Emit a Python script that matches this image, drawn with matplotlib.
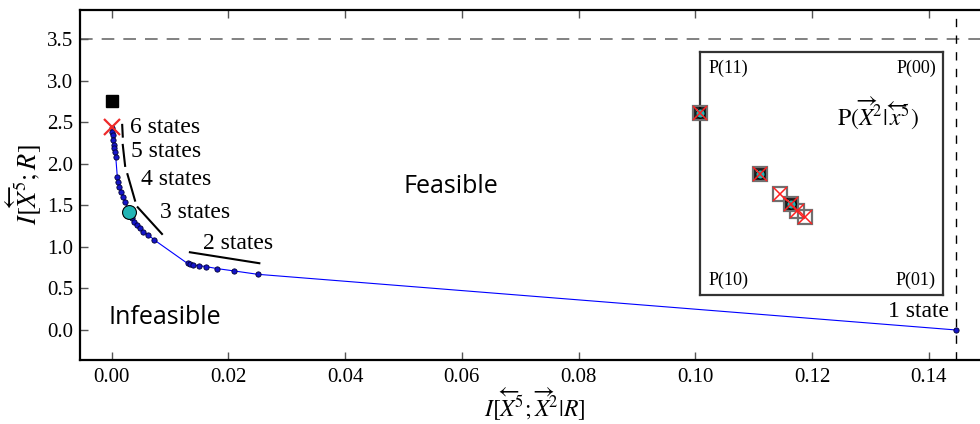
import matplotlib
matplotlib.use("Agg")
import matplotlib.pyplot as plt

plt.rcParams['font.family'] = ['Liberation Serif', 'DejaVu Serif']
plt.rcParams['mathtext.fontset'] = 'stix'

# ---- data ----
curve_x = [0.0, 0.00005, 0.00027, 0.00027, 0.00045, 0.00045, 0.00057, 0.00069,
           0.00096, 0.00113, 0.0013, 0.0016, 0.0020, 0.0023, 0.0030, 0.0034,
           0.0039, 0.0043, 0.0048, 0.0054, 0.0063, 0.0073,
           0.0130, 0.0134, 0.0140, 0.0150, 0.0162, 0.0181, 0.0210, 0.0250, 0.1447]
curve_y = [2.43, 2.386, 2.347, 2.286, 2.226, 2.186, 2.146, 2.085,
           1.845, 1.785, 1.724, 1.664, 1.604, 1.544, 1.424, 1.344,
           1.303, 1.264, 1.224, 1.183, 1.143, 1.083,
           0.800, 0.794, 0.782, 0.774, 0.762, 0.738, 0.710, 0.670, 0.0]

square_pt = (0.0, 2.75)
cross_pt = (0.0, 2.44)
circle_pt = (0.0030, 1.424)

hline_y = 3.5
vline_x = 0.1447

seg_x0 = [0.0018, 0.0019, 0.0027, 0.00446, 0.0134]
seg_y0 = [2.467, 2.226, 1.874, 1.476, 0.935]
seg_x1 = [0.0019, 0.0023, 0.0040, 0.00862, 0.0253]
seg_y1 = [2.326, 1.974, 1.556, 1.155, 0.803]

state_labels = ['6 states', '5 states', '4 states', '3 states', '2 states']
label_x = [0.0032, 0.0033, 0.0050, 0.0082, 0.0157]
label_y = [2.43, 2.146, 1.805, 1.412, 1.043]

xticks = [0.00, 0.02, 0.04, 0.06, 0.08, 0.10, 0.12, 0.14]
yticks = [0.0, 0.5, 1.0, 1.5, 2.0, 2.5, 3.0, 3.5]

# inset (normalised coordinates in the square)
inset_u = [0.0, 0.247, 0.330, 0.373, 0.400, 0.432]
inset_v = [0.751, 0.499, 0.418, 0.373, 0.347, 0.320]
black_sq_idx = [0, 1, 3]
cyan_idx = [0, 1, 3]
corner_labels = ['P(11)', 'P(00)', 'P(10)', 'P(01)']
corner_u = [0.033, 0.97, 0.033, 0.97]
corner_v = [0.934, 0.934, 0.062, 0.062]

# ---- figure ----
fig = plt.figure(figsize=(9.8, 4.24), dpi=100)
ax = fig.add_axes([80/980, 1-360/424, 910/980, 350/424])
ax.set_xlim(-0.00543, 0.1505)
ax.set_ylim(-0.361, 3.849)

ax.axhline(hline_y, color='#777777', lw=1.3, ls=(0, (7, 5)), zorder=1)
ax.axvline(vline_x, color='black', lw=1.0, ls=(0, (6, 6)), zorder=1)

ax.plot(curve_x, curve_y, '-', color='#0000ff', lw=0.8, zorder=2)
ax.plot(curve_x, curve_y, 'o', ms=3.8, mfc='#1414c8', mec='#000033', mew=0.6, zorder=3)

ax.plot(*square_pt, 's', ms=9, color='black', zorder=4)
ax.plot(*cross_pt, 'x', ms=11, mew=1.6, color='#ee2a2a', zorder=5)
ax.plot(*circle_pt, 'o', ms=10, mfc='#22b5b5', mec='black', mew=0.8, zorder=5)

for x0, y0, x1, y1 in zip(seg_x0, seg_y0, seg_x1, seg_y1):
    ax.plot([x0, x1], [y0, y1], color='black', lw=1.5, zorder=2)
for t, x, y in zip(state_labels, label_x, label_y):
    ax.text(x, y, t, fontsize=17, ha='left', va='center')
ax.text(0.1435, 0.22, '1 state', fontsize=17, ha='right', va='center')

ax.text(0.0500, 1.72, 'Feasible', fontsize=18, family=['Open Sans', 'DejaVu Sans'],
        ha='left', va='center')
ax.text(-0.0006, 0.156, 'Infeasible', fontsize=18, family=['Open Sans', 'DejaVu Sans'],
        ha='left', va='center')

ax.set_xticks(xticks)
ax.set_xticklabels([f'{v:.2f}' for v in xticks])
ax.set_yticks(yticks)
ax.set_yticklabels([f'{v:.1f}' for v in yticks])
ax.tick_params(direction='in', top=True, right=True, length=6, width=1,
               labelsize=15, color='#555555')
ax.tick_params(axis='x', pad=6)
ax.tick_params(axis='y', pad=5)
for s in ax.spines.values():
    s.set_linewidth(1.6)

ax.set_xlabel(r'$I[\overleftarrow{X}^5;\overrightarrow{X}^2|R]$', fontsize=17, labelpad=0)
ax.set_ylabel(r'$I[\overleftarrow{X}^5;R]$', fontsize=19, labelpad=2)

# inset
ins = fig.add_axes([700/980, 1-295/424, 243.3/980, 242.7/424])
ins.set_xlim(0, 1)
ins.set_ylim(0, 1)
ins.set_xticks([])
ins.set_yticks([])
for s in ins.spines.values():
    s.set_linewidth(1.6)
    s.set_color('#333333')
ins.plot(inset_u, inset_v, 's', ms=10, mfc='none', mec='#707070', mew=1.6, clip_on=False, zorder=3)
ins.plot([inset_u[i] for i in black_sq_idx], [inset_v[i] for i in black_sq_idx], 's', ms=6.5,
         mfc='none', mec='black', mew=1.2, clip_on=False, zorder=4)
ins.plot([inset_u[i] for i in cyan_idx], [inset_v[i] for i in cyan_idx], 'o', ms=6.5,
         mfc='#22b5b5', mec='black', mew=0.6, clip_on=False, zorder=5)
ins.plot(inset_u, inset_v, 'x', ms=10, mew=1.1, color='#ff2020', clip_on=False, zorder=6)
for t, u, v in zip(corner_labels, corner_u, corner_v):
    ins.text(u, v, t, fontsize=13, ha='left' if u < 0.5 else 'right', va='center')
ins.text(0.73, 0.749, r'$\mathrm{P}(\overrightarrow{X}^{2}|\,\overleftarrow{x}^{5})$', fontsize=17,
         ha='center', va='center')

fig.savefig('out.png', dpi=100)
